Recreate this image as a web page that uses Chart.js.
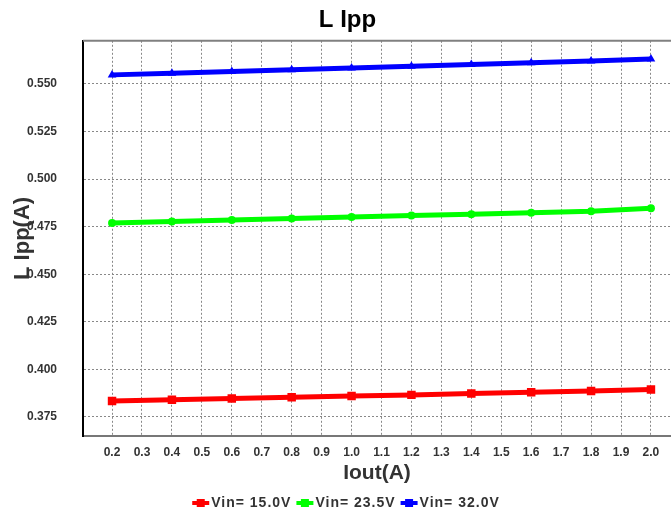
<!DOCTYPE html>
<html>
<head>
<meta charset="UTF-8">
<title>L Ipp</title>
<script src="https://cdn.jsdelivr.net/npm/chart.js"></script>
<style>
    body { margin: 0; background: #fff; }
    #wrap { width: 671px; height: 511px; }
</style>
</head>
<body>
<div id="wrap"><canvas id="chart" width="671" height="511"></canvas></div>
<script>
// values
const iout = [0.2, 0.4, 0.6, 0.8, 1.0, 1.2, 1.4, 1.6, 1.8, 2.0];
const vin15 = [0.3834, 0.3841, 0.3847, 0.3853, 0.3860, 0.3866, 0.3873, 0.3880, 0.3887, 0.3894];
const vin235 = [0.4769, 0.4777, 0.4785, 0.4792, 0.4800, 0.4808, 0.4815, 0.4823, 0.4831, 0.4846];
const vin32 = [0.5547, 0.5556, 0.5565, 0.5574, 0.5583, 0.5592, 0.5601, 0.5611, 0.5620, 0.5631];
const xTicks = [0.2, 0.3, 0.4, 0.5, 0.6, 0.7, 0.8, 0.9, 1.0, 1.1, 1.2, 1.3, 1.4, 1.5, 1.6, 1.7, 1.8, 1.9, 2.0];
const yTicks = [0.375, 0.400, 0.425, 0.450, 0.475, 0.500, 0.525, 0.550];
const seriesNames = ['Vin= 15.0V', 'Vin= 23.5V', 'Vin= 32.0V'];
const seriesColors = ['#ff0000', '#00ff00', '#0000ff'];
const pointShapes = ['rect', 'circle', 'triangle'];
const pointSizes = [6, 4, 5];

const FONT = "'Liberation Sans', Arial, sans-serif";

function pts(ys) {
    return iout.map((x, i) => ({ x: x, y: ys[i] }));
}

// title sits a bit right of the canvas centre in the original
const nudgeTitle = {
    id: 'nudgeTitle',
    afterLayout(chart) {
        if (chart.titleBlock) {
            chart.titleBlock.left += 12;
            chart.titleBlock.right += 12;
        }
    }
};

const topBorder = {
    id: 'topBorder',
    afterDraw(chart) {
        const a = chart.chartArea, ctx = chart.ctx;
        ctx.save();
        ctx.strokeStyle = '#808080';
        ctx.lineWidth = 2;
        ctx.beginPath();
        ctx.moveTo(a.left, a.top);
        ctx.lineTo(a.right, a.top);
        ctx.stroke();
        ctx.restore();
    }
};

// legend drawn by hand: line with a square, then spaced bold text
const bottomLegend = {
    id: 'bottomLegend',
    afterDraw(chart) {
        const ctx = chart.ctx;
        const sets = chart.data.datasets;
        const markW = 17, gap = 2, itemGap = 5;
        ctx.save();
        ctx.font = 'bold 14px ' + FONT;
        ctx.letterSpacing = '1px';
        ctx.textBaseline = 'middle';
        const widths = sets.map(ds => markW + gap + ctx.measureText(ds.label).width);
        const total = widths.reduce((a, b) => a + b, 0) + itemGap * (sets.length - 1);
        let x = 346 - total / 2;
        const y = 503;
        sets.forEach((ds, i) => {
            ctx.fillStyle = ds.borderColor;
            ctx.fillRect(x, y - 2, markW, 4);
            ctx.fillRect(x + markW / 2 - 4, y - 4, 8, 8);
            ctx.fillStyle = '#333';
            ctx.fillText(ds.label, x + markW + gap, y);
            x += widths[i] + itemGap;
        });
        ctx.restore();
    }
};

const data = [vin15, vin235, vin32];

new Chart(document.getElementById('chart').getContext('2d'), {
    type: 'line',
    data: {
        datasets: data.map((d, i) => ({
            label: seriesNames[i],
            data: pts(d),
            borderColor: seriesColors[i],
            backgroundColor: seriesColors[i],
            borderWidth: 5,
            pointStyle: pointShapes[i],
            pointRadius: pointSizes[i],
            pointBorderWidth: 0,
            tension: 0
        }))
    },
    options: {
        responsive: false,
        animation: false,
        layout: { autoPadding: false, padding: { top: 0, left: 0, right: 0, bottom: 21 } },
        plugins: {
            title: {
                display: true,
                text: 'L Ipp',
                color: '#000',
                font: { family: FONT, size: 24, weight: 'bold' },
                padding: { top: 6, bottom: 6 }
            },
            legend: { display: false },
            tooltip: { enabled: false }
        },
        scales: {
            x: {
                type: 'linear',
                min: 0.103,
                max: 2.067,
                afterBuildTicks(axis) { axis.ticks = xTicks.map(v => ({ value: v })); },
                afterFit(axis) { axis.height = 54; },
                ticks: {
                    color: '#333',
                    font: { family: FONT, size: 12, weight: 'bold' },
                    padding: 9,
                    autoSkip: false,
                    maxRotation: 0,
                    callback: v => v.toFixed(1)
                },
                grid: { color: '#888', lineWidth: 1, drawTicks: false },
                border: { color: '#777', width: 2, dash: [2, 2] },
                title: {
                    display: true,
                    text: 'Iout(A)',
                    color: '#333',
                    font: { family: FONT, size: 21, weight: 'bold' },
                    padding: { top: 3, bottom: 4 }
                }
            },
            y: {
                min: 0.365,
                max: 0.5726,
                afterBuildTicks(axis) { axis.ticks = yTicks.map(v => ({ value: v })); },
                afterFit(axis) { axis.width = 83; },
                ticks: {
                    color: '#333',
                    font: { family: FONT, size: 12, weight: 'bold' },
                    padding: 26,
                    callback: v => v.toFixed(3)
                },
                grid: { color: '#888', lineWidth: 1, drawTicks: false },
                border: { color: '#000', width: 2, dash: [2, 2] },
                title: {
                    display: true,
                    text: 'L Ipp(A)',
                    color: '#333',
                    font: { family: FONT, size: 22, weight: 'bold' },
                    padding: { top: 10, bottom: 0 }
                }
            }
        }
    },
    plugins: [nudgeTitle, topBorder, bottomLegend]
});
</script>
</body>
</html>
